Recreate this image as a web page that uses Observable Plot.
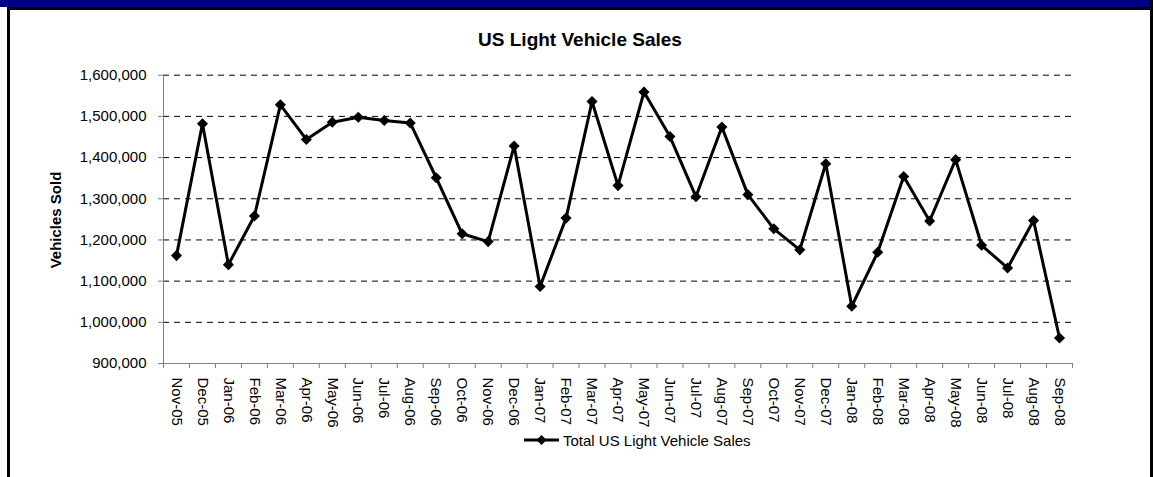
<!DOCTYPE html>
<html><head><meta charset="utf-8">
<script src="https://cdn.jsdelivr.net/npm/d3@7"></script>
<script src="https://cdn.jsdelivr.net/npm/@observablehq/plot@0.6"></script>
<style>
body{margin:0;background:#fff;}
#wrap{position:relative;width:1153px;height:477px;overflow:hidden;background:#fff;font-family:"Liberation Sans",Arial,sans-serif;color:#000;}
.bar{position:absolute;left:0;top:0;width:1150px;height:7px;background:#000080;}
.topline{position:absolute;left:7px;top:7px;width:1146px;height:3px;background:#000;}
.lb{position:absolute;left:7px;top:7px;width:3px;height:470px;background:#000;}
.rb{position:absolute;left:1150px;top:0;width:3px;height:477px;background:#000;}
#title{position:absolute;left:0;width:1160px;top:30px;text-align:center;font-weight:bold;font-size:19px;line-height:19px;}
#ylab{position:absolute;left:55px;top:220px;transform:translate(-50%,-50%) rotate(-90deg);font-weight:bold;font-size:15px;line-height:15px;white-space:nowrap;}
#chart{position:absolute;left:0;top:60px;}
#legsym{position:absolute;left:524px;top:432px;}
#legtxt{position:absolute;left:563px;top:433px;font-size:15px;line-height:15px;white-space:nowrap;}
</style>
</head><body>
<div id="wrap">
  <div class="bar"></div><div class="topline"></div><div class="lb"></div><div class="rb"></div>
  <div id="title">US Light Vehicle Sales</div>
  <div id="ylab">Vehicles Sold</div>
  <div id="chart"></div>
  <svg id="legsym" width="36" height="16"><line x1="0" y1="8" x2="35" y2="8" stroke="#000" stroke-width="3"/><path d="M17.5,3L22.5,8L17.5,13L12.5,8Z" fill="#000"/></svg>
  <div id="legtxt">Total US Light Vehicle Sales</div>
</div>
<script>
const months = ["Nov-05","Dec-05","Jan-06","Feb-06","Mar-06","Apr-06","May-06","Jun-06","Jul-06","Aug-06","Sep-06","Oct-06","Nov-06","Dec-06","Jan-07","Feb-07","Mar-07","Apr-07","May-07","Jun-07","Jul-07","Aug-07","Sep-07","Oct-07","Nov-07","Dec-07","Jan-08","Feb-08","Mar-08","Apr-08","May-08","Jun-08","Jul-08","Aug-08","Sep-08"];
const sales = [1162000,1482000,1140000,1258000,1528000,1444000,1486000,1498000,1490000,1484000,1351000,1215000,1196000,1428000,1087000,1253000,1536000,1332000,1559000,1451000,1305000,1474000,1310000,1227000,1176000,1385000,1039000,1170000,1354000,1246000,1395000,1187000,1132000,1247000,962000];
const yTicks = [900000,1000000,1100000,1200000,1300000,1400000,1500000,1600000];
const seriesName = "Total US Light Vehicle Sales";

const data = months.map((m, i) => ({month: m, value: sales[i]}));
const W = 1153, H = 370, ML = 163, MR = 81, MT = 14.7, MB = 67;
const step = (W - ML - MR) / months.length;
const axisGray = "#808080";

const chart = Plot.plot({
  width: W, height: H,
  marginLeft: ML, marginRight: MR, marginTop: MT, marginBottom: MB,
  style: {fontFamily: "'Liberation Sans', Arial, sans-serif", fontSize: "15px", background: "transparent", overflow: "visible", color: "#000"},
  x: {type: "band", domain: months, padding: 0, label: null},
  y: {domain: [900000, 1600000], label: null},
  marks: [
    Plot.gridY(yTicks.slice(1), {stroke: "#000", strokeOpacity: 1, strokeDasharray: "6,5"}),
    Plot.ruleY([900000], {stroke: axisGray}),
    Plot.ruleX([months[0]], {dx: -step / 2, stroke: axisGray}),
    Plot.axisY({ticks: yTicks, tickSize: 5, tickPadding: 12, tickFormat: d3.format(","), stroke: axisGray, label: null}),
    Plot.axisX({tickSize: 5, tickFormat: () => "", dx: -step / 2, stroke: axisGray, label: null}),
    Plot.axisX({ticks: [months[months.length - 1]], tickSize: 5, tickFormat: () => "", dx: step / 2, stroke: axisGray, label: null}),
    Plot.axisX({tickSize: 0, tickPadding: 14, tickRotate: 90, label: null}),
    Plot.line(data, {x: "month", y: "value", stroke: "#000", strokeWidth: 3, strokeLinejoin: "miter"}),
    Plot.dot(data, {x: "month", y: "value", symbol: "diamond2", r: 5, fill: "#000", stroke: "none"})
  ]
});
document.getElementById("chart").appendChild(chart);
</script>
</body></html>
